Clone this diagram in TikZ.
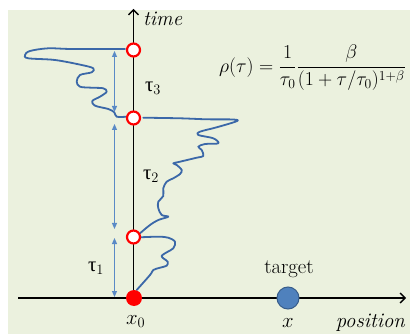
\documentclass[tikz,border=0pt]{standalone}
\usepackage{fontspec}
\newfontfamily\greek{Liberation Serif}
\usetikzlibrary{arrows.meta}
\definecolor{bggreen}{HTML}{EBF1DE}
\definecolor{walkblue}{HTML}{3B68A8}
\definecolor{arrowblue}{HTML}{5A8AC6}
\definecolor{targetfill}{HTML}{4F81BD}
\definecolor{targetline}{HTML}{385D8A}
\begin{document}
\begin{tikzpicture}[x=1pt,y=-1pt,
  walk/.style={draw=walkblue, line width=1.8pt, line join=round, line cap=round},
  event/.style={circle, draw=red, fill=white, line width=2.2pt, minimum size=13pt, inner sep=0pt},
  start/.style={circle, fill=red, minimum size=16pt, inner sep=0pt},
  targetdot/.style={circle, fill=targetfill, draw=targetline, line width=1pt, minimum size=22pt, inner sep=0pt},
  interval/.style={draw=arrowblue, line width=1pt, {Triangle[length=6pt,width=5pt]}-{Triangle[length=6pt,width=5pt]}},
  axis/.style={line width=1.4pt, -{Straight Barb[length=5pt,width=10pt]}},
  lbl/.style={inner sep=0pt, font=\huge},
  taulbl/.style={inner sep=0pt, font=\huge\greek}]
\useasboundingbox (0,0) rectangle (410,334);
\fill[white] (0,0) rectangle (410,334);
\fill[bggreen] (8,10) rectangle (410,334);
% axes
\coordinate (hstart) at (18,298);
\coordinate (hend) at (406,298);
\coordinate (vstart) at (133.5,298);
\coordinate (vend) at (133.5,9);
\draw[axis] (hstart) -- (hend);
\draw[axis] (vstart) -- (vend);
% random walk
\draw[walk] plot[smooth, tension=0.55] coordinates {
 (136.7,290) (150,275) (153.3,270) (160,267.7) (166.7,265.7) (167.7,261.7)
 (163.3,258.3) (161.7,255.7) (166.7,252.3) (173.3,248.3) (175,241.7)
 (168.3,237.7) (158.3,236.7) (140,237.3)};
\draw[walk] plot[smooth, tension=0.55] coordinates {
 (140,233.3) (150,225) (158.3,220) (168.3,216.7) (161.7,215) (158.3,208.3)
 (158.3,201.7) (163.3,196) (163.3,188.3) (166.7,181.7) (173.3,178.3)
 (180,174) (181.7,170) (176.7,165) (173.3,163.3) (180,161.7) (196.7,157.7)
 (203.3,156) (201.7,150) (198.3,146.7) (205,144) (218.3,143.3) (213.3,138.3)
 (198.3,135) (200,131.7) (216.7,127.3) (236.7,121.2) (233,119.5)
 (206.7,119.3) (180,118.3) (143.3,117.7)};
\draw[walk] plot[smooth, tension=0.55] coordinates {
 (126.7,116.7) (116.7,116.7) (114.3,112.3) (108.3,109) (95,105.7) (92.3,101)
 (100,96.7) (106.7,91.7) (103.3,88.3) (91.7,87.7) (80,86.7) (76.7,81.7)
 (80,75) (91.7,72.3) (93.3,68.3) (81.7,65) (55,60) (28.3,58.3) (25,55)
 (30,51) (48.3,48.3) (71.7,49) (125,49)};
% events
\node[start] (e0) at (134,298) {};
\node[event] (e1) at (133.5,237) {};
\node[event] (e2) at (133.5,118) {};
\node[event] (e3) at (133.5,50) {};
\node[targetdot] (tgt) at (288,298) {};
% interval arrows
\coordinate (a1b) at (114.5,297);
\coordinate (a1t) at (114.5,238);
\coordinate (a2b) at (114.5,229);
\coordinate (a2t) at (114.5,124);
\coordinate (a3b) at (114.5,112);
\coordinate (a3t) at (114.5,51);
\draw[interval] (a1b) -- (a1t);
\draw[interval] (a2b) -- (a2t);
\draw[interval] (a3b) -- (a3t);
% labels
\node[taulbl] (t1) at (96,268) {τ$_1$};
\node[taulbl] (t2) at (151,176) {τ$_2$};
\node[taulbl] (t3) at (153,88) {τ$_3$};
\node[lbl, anchor=base west] (time) at (143,26) {\itshape time};
\node[lbl, anchor=base east] (pos) at (405,327) {\itshape position};
\node[lbl, anchor=base] (x) at (288,327) {$x$};
\node[lbl, anchor=base west] (x0) at (126,324) {$x_0$};
\node[lbl, anchor=base] (target) at (289,273) {target};
\node[lbl, anchor=west, scale=0.95] (rho) at (219,68) {$\displaystyle \rho(\tau)=\frac{1}{\tau_0}\frac{\beta}{(1+\tau/\tau_0)^{1+\beta}}$};
\end{tikzpicture}
\end{document}
